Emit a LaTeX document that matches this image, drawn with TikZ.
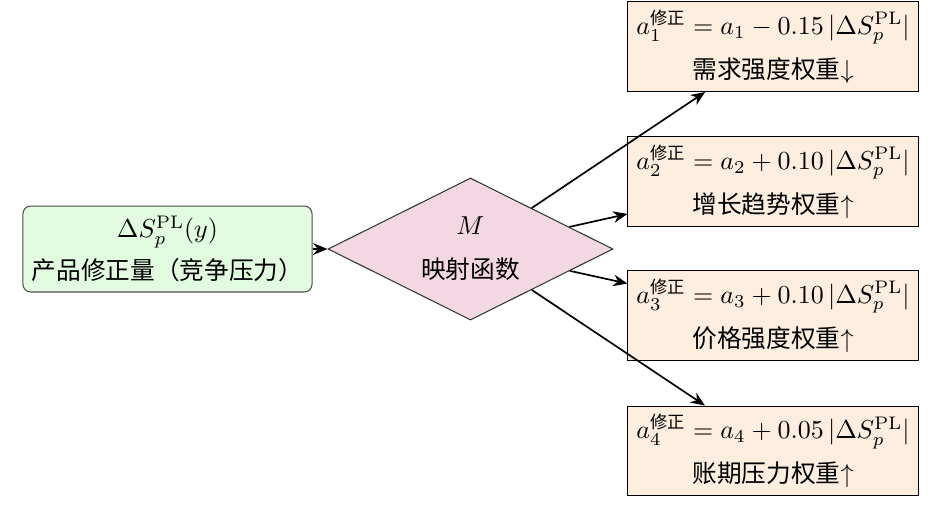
\documentclass[tikz,border=0pt]{standalone}
\usepackage{amsmath}
\usepackage{fontspec}
\newfontfamily\cjk[Scale=0.95]{Noto Sans CJK SC}
\usetikzlibrary{shapes.geometric,arrows.meta}
\definecolor{srcfill}{RGB}{226,252,224}
\definecolor{diafill}{RGB}{243,215,226}
\definecolor{outfill}{RGB}{253,238,224}
\tikzset{
  lbox/.style={draw=black!70, fill=srcfill, rounded corners=3pt, minimum width=111.3pt, minimum height=33.1pt, align=center, inner sep=1pt},
  dia/.style={draw=black!80, fill=diafill, diamond, aspect=2, minimum width=109.7pt, minimum height=54.7pt, inner sep=0pt, align=center},
  obox/.style={draw=black, fill=outfill, minimum width=111.7pt, minimum height=34.6pt, align=center, inner sep=1pt},
  arr/.style={-{Stealth[length=5.5pt,width=4.5pt]}, line width=0.65pt}
}
\begin{document}
\begin{tikzpicture}[x=0.385pt,y=-0.385pt]
\useasboundingbox (0,0) rectangle (935,505);
\node[lbox] (src) at (167.5,249) {$\Delta S_p^{\mathrm{PL}}(y)$\\[4pt] {\cjk 产品修正量（竞争压力）}};
\node[dia] (M) at (470.5,249) {$M$\\[5pt] {\cjk 映射函数}};
\node[obox] (b1) at (773,46.5) {$a_1^{\text{\cjk 修正}} = a_1 - 0.15\,|\Delta S_p^{\mathrm{PL}}|$\\[5pt] {\cjk 需求强度权重}$\downarrow$};
\node[obox] (b2) at (773,181.5) {$a_2^{\text{\cjk 修正}} = a_2 + 0.10\,|\Delta S_p^{\mathrm{PL}}|$\\[5pt] {\cjk 增长趋势权重}$\uparrow$};
\node[obox] (b3) at (773,315.5) {$a_3^{\text{\cjk 修正}} = a_3 + 0.10\,|\Delta S_p^{\mathrm{PL}}|$\\[5pt] {\cjk 价格强度权重}$\uparrow$};
\node[obox] (b4) at (773,451) {$a_4^{\text{\cjk 修正}} = a_4 + 0.05\,|\Delta S_p^{\mathrm{PL}}|$\\[5pt] {\cjk 账期压力权重}$\uparrow$};
\draw[arr] (src) -- (M);
\draw[arr] (M) -- (b1);
\draw[arr] (M) -- (b2);
\draw[arr] (M) -- (b3);
\draw[arr] (M) -- (b4);
\end{tikzpicture}
\end{document}
